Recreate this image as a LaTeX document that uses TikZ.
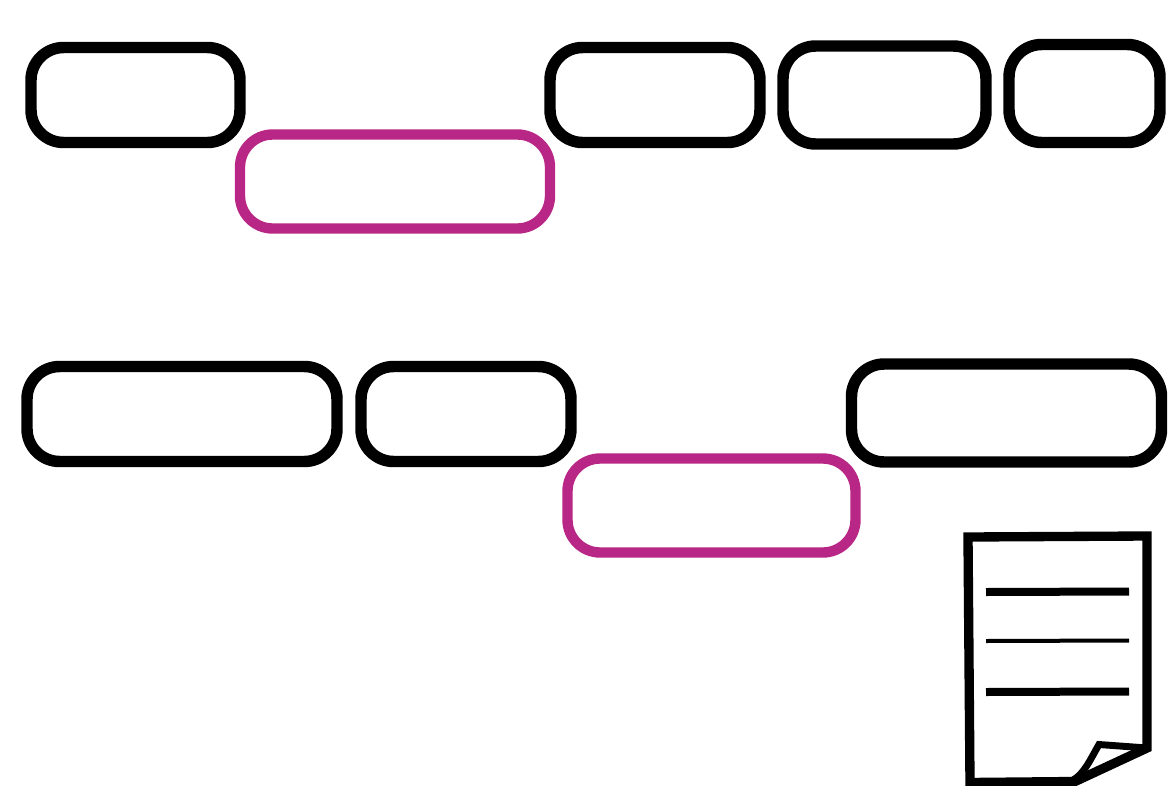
\documentclass[tikz,border=0pt]{standalone}
\tikzset{
  boxshape/.style={draw, rectangle, rounded corners=24.5pt, inner sep=0pt, outer sep=0pt, line width=8.6pt, minimum width=#1},
  blackbox/.style={boxshape=#1, draw=black},
  plumbox/.style={boxshape=#1, draw=plum, line width=7.8pt},
  docline/.style={draw=black, line width=6pt},
  thinline/.style={draw=black, line width=3pt}
}
\definecolor{plum}{RGB}{184,39,133}
\begin{document}
\begin{tikzpicture}[x=0.75pt,y=-0.75pt]
\useasboundingbox (0,0) rectangle (1172,786);
\node[blackbox=156.75pt, minimum height=71.25pt] (a) at (135.5,95) {};
\node[blackbox=157.5pt, minimum height=71.25pt] (c) at (655,95) {};
\node[blackbox=152.25pt, minimum height=73.5pt] (d) at (884.5,95) {};
\node[blackbox=113.25pt, minimum height=73.5pt] (e) at (1084.5,93.5) {};
\node[plumbox=232.5pt, minimum height=70.5pt] (b) at (395,181.5) {};
\node[blackbox=232.5pt, minimum height=71.25pt] (f) at (182,414) {};
\node[blackbox=157.5pt, minimum height=71.25pt] (g) at (466,414) {};
\node[blackbox=232.5pt, minimum height=73.5pt] (i) at (1006.5,413) {};
\node[plumbox=216pt, minimum height=70.5pt] (h) at (711.5,505.5) {};
% document icon
\draw[black, line width=7pt, miter limit=10] (968,537) -- (1147,536) -- (1147,748) -- (1075,781.5) -- (970,782.5) -- cycle;
\draw[black, line width=5.2pt, line join=miter] (1073,780) .. controls (1084,774) and (1090,760) .. (1099,744.5) -- (1147,748);
\draw[docline] (986,592) -- (1129,591.5);
\draw[thinline] (986,641) -- (1129,640.5);
\draw[docline] (986,692) -- (1129,691.5);
\end{tikzpicture}
\end{document}
